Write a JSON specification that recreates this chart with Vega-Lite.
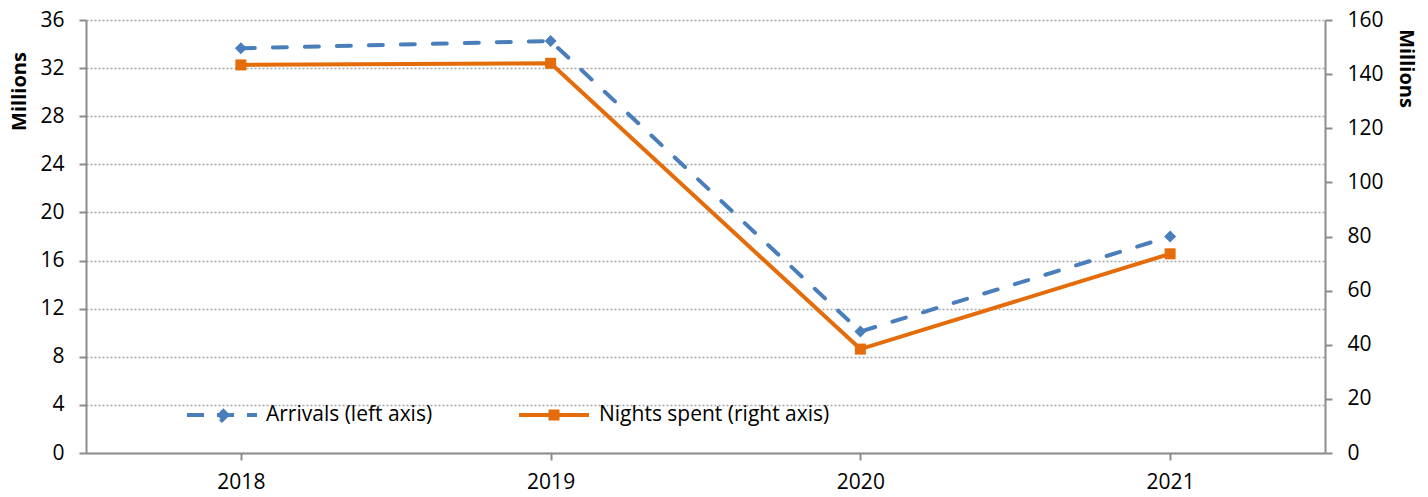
{
  "$schema": "https://vega.github.io/schema/vega-lite/v6.json",
  "width": 1239,
  "height": 433,
  "autosize": {"type": "none"},
  "padding": {"left": 86, "top": 20, "right": 103, "bottom": 44},
  "background": "white",
  "config": {
    "font": "Open Sans",
    "view": {"stroke": null},
    "axis": {
      "labelFont": "Open Sans",
      "labelFontSize": 21,
      "labelColor": "#000",
      "domainColor": "#8c8c8c",
      "domainWidth": 2,
      "tickColor": "#8c8c8c",
      "tickWidth": 2,
      "tickSize": 7,
      "titleFont": "Open Sans",
      "titleFontSize": 20,
      "titleFontWeight": "bold",
      "titleColor": "#000"
    },
    "legend": {
      "labelFont": "Open Sans",
      "labelFontSize": 21,
      "labelColor": "#000",
      "labelLimit": 400
    }
  },
  "data": {
    "values": [
      {"year": "2018", "series": "Arrivals (left axis)", "value": 33.65},
      {"year": "2019", "series": "Arrivals (left axis)", "value": 34.25},
      {"year": "2020", "series": "Arrivals (left axis)", "value": 10.1},
      {"year": "2021", "series": "Arrivals (left axis)", "value": 18.0},
      {"year": "2018", "series": "Nights spent (right axis)", "value": 143.4},
      {"year": "2019", "series": "Nights spent (right axis)", "value": 144.0},
      {"year": "2020", "series": "Nights spent (right axis)", "value": 38.4},
      {"year": "2021", "series": "Nights spent (right axis)", "value": 73.6}
    ]
  },
  "encoding": {
    "x": {
      "field": "year",
      "type": "ordinal",
      "scale": {"type": "point", "padding": 0.5},
      "axis": {"title": null, "labelAngle": 0, "labelPadding": 11, "grid": false}
    }
  },
  "layer": [
    {
      "transform": [{"filter": "datum.series === 'Arrivals (left axis)'"}],
      "mark": {
        "type": "line",
        "strokeWidth": 4,
        "strokeDash": [14, 18],
        "strokeCap": "round",
        "point": {"shape": "diamond", "size": 144, "filled": true, "opacity": 1}
      },
      "encoding": {
        "y": {
          "field": "value",
          "type": "quantitative",
          "scale": {"domain": [0, 36], "nice": false},
          "axis": {
            "values": [0, 4, 8, 12, 16, 20, 24, 28, 32, 36],
            "title": "Millions",
            "titleAngle": -90,
            "titleX": -67,
            "titleY": 71,
            "titleAlign": "center",
            "titleBaseline": "middle",
            "labelPadding": 15,
            "grid": true,
            "gridColor": "#a6a6a6",
            "gridDash": [2, 2],
            "gridWidth": 1.5
          }
        },
        "color": {
          "field": "series",
          "type": "nominal",
          "scale": {"domain": ["Arrivals (left axis)"], "range": ["#4a7ebb"]},
          "legend": {
            "title": null,
            "orient": "none",
            "legendX": 99,
            "legendY": 358,
            "padding": 0,
            "symbolType": "M-1,0H1M0,-0.15L0.15,0L0,0.15L-0.15,0Z",
            "symbolSize": 4900,
            "symbolStrokeWidth": 4,
            "symbolDash": [17, 13],
            "symbolFillColor": "#4a7ebb",
            "symbolStrokeColor": "#4a7ebb",
            "labelOffset": 7
          }
        }
      }
    },
    {
      "transform": [{"filter": "datum.series === 'Nights spent (right axis)'"}],
      "mark": {
        "type": "line",
        "strokeWidth": 4,
        "point": {"shape": "square", "size": 121, "filled": true, "opacity": 1}
      },
      "encoding": {
        "y": {
          "field": "value",
          "type": "quantitative",
          "scale": {"domain": [0, 160], "nice": false},
          "axis": {
            "orient": "right",
            "values": [0, 20, 40, 60, 80, 100, 120, 140, 160],
            "title": "Millions",
            "titleAngle": 90,
            "titleX": 80,
            "titleY": 48,
            "titleAlign": "center",
            "titleBaseline": "middle",
            "labelPadding": 15,
            "grid": false
          }
        },
        "color": {
          "field": "series",
          "type": "nominal",
          "scale": {"domain": ["Nights spent (right axis)"], "range": ["#e46c0a"]},
          "legend": {
            "title": null,
            "orient": "none",
            "legendX": 431,
            "legendY": 358,
            "padding": 0,
            "symbolType": "M-1,0H1M-0.1,-0.1H0.1V0.1H-0.1Z",
            "symbolSize": 4900,
            "symbolStrokeWidth": 4,
            "symbolFillColor": "#e46c0a",
            "symbolStrokeColor": "#e46c0a",
            "labelOffset": 8
          }
        }
      }
    }
  ],
  "resolve": {"scale": {"y": "independent", "color": "independent"}}
}
